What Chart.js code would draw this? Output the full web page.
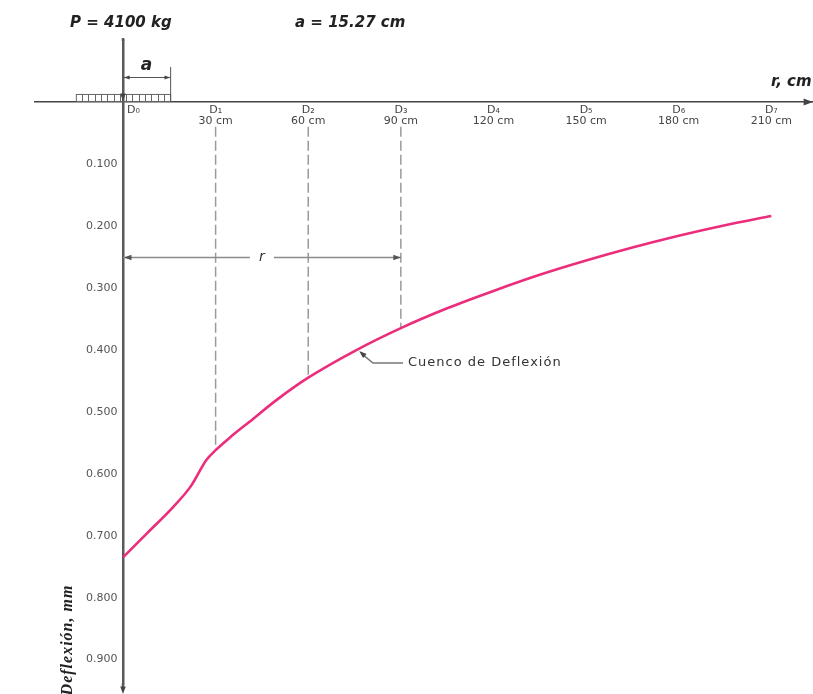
<!DOCTYPE html>
<html lang="es">
<head>
  <meta charset="UTF-8" />
  <title>Cuenco de Deflexión</title>
  <script src="https://cdn.jsdelivr.net/npm/chart.js"></script>
  <style>
    body { margin: 0; background: #fff; }
    canvas { display: block; }
  </style>
</head>
<body>
  <canvas id="bowl" width="813" height="694"></canvas>

  <script>
    // distance from load centre (cm) and measured deflection (mm)
    const radii      = [0, 8, 16, 22, 27, 30, 35, 41, 50, 60, 75, 90, 105, 120, 135, 150, 165, 180, 195, 210];
    const deflection = [0.735, 0.695, 0.655, 0.620, 0.578, 0.562, 0.540, 0.516, 0.480, 0.445, 0.402, 0.365,
                        0.333, 0.305, 0.279, 0.256, 0.235, 0.216, 0.199, 0.184];

    const sensorPos   = [0, 30, 60, 90, 120, 150, 180, 210];
    const sensorNames = ['D₀', 'D₁', 'D₂', 'D₃', 'D₄', 'D₅', 'D₆', 'D₇'];
    const deflTicks   = [0.1, 0.2, 0.3, 0.4, 0.5, 0.6, 0.7, 0.8, 0.9];
    const dashedAt    = [30, 60, 90];

    const load = 4100;          // kg
    const contactRadius = 15.27; // cm

    const curve = radii.map((r, i) => ({ x: r, y: deflection[i] }));

    const dashed = dashedAt.map(r => ({
      data: [{ x: r, y: 0.04 }, { x: r, y: deflection[radii.indexOf(r)] }],
      borderColor: '#9a9a9a',
      borderWidth: 1.5,
      borderDash: [10, 4],
      pointRadius: 0,
      fill: false
    }));

    function arrowHead(ctx, fx, fy, tx, ty, size) {
      const ang = Math.atan2(ty - fy, tx - fx);
      ctx.beginPath();
      ctx.moveTo(tx, ty);
      ctx.lineTo(tx - size * Math.cos(ang - 0.35), ty - size * Math.sin(ang - 0.35));
      ctx.lineTo(tx - size * Math.cos(ang + 0.35), ty - size * Math.sin(ang + 0.35));
      ctx.closePath();
      ctx.fill();
    }

    const sketch = {
      id: 'sketch',
      afterDraw(chart) {
        const ctx = chart.ctx;
        const xs = chart.scales.x, ys = chart.scales.y;
        const x0 = xs.getPixelForValue(0), y0 = ys.getPixelForValue(0);
        const xa = xs.getPixelForValue(contactRadius);
        ctx.save();

        // axis continues down to the arrow
        ctx.strokeStyle = '#5a5a5a';
        ctx.lineWidth = 2.5;
        ctx.beginPath(); ctx.moveTo(x0, chart.chartArea.bottom - 1); ctx.lineTo(x0, 688); ctx.stroke();
        // load line above the axis
        ctx.beginPath(); ctx.moveTo(x0, 38); ctx.lineTo(x0, chart.chartArea.top + 1); ctx.stroke();

        // header
        ctx.fillStyle = '#222';
        ctx.font = 'italic bold 15px "DejaVu Sans", sans-serif';
        ctx.textBaseline = 'middle';
        ctx.textAlign = 'left';
        ctx.fillText('P = ' + load + ' kg', 70, 23);
        ctx.fillText('a = ' + contactRadius + ' cm', 295, 23);
        ctx.fillText('r, cm', 771, 82);

        // distributed load
        const xl = xs.getPixelForValue(-contactRadius);
        ctx.strokeStyle = '#666';
        ctx.lineWidth = 1;
        ctx.strokeRect(xl + 0.5, y0 - 7.5, xa - xl, 7);
        for (let i = 1; i < 15; i++) {
          const xx = Math.round(xl + (xa - xl) * i / 15) + 0.5;
          ctx.beginPath(); ctx.moveTo(xx, y0 - 7.5); ctx.lineTo(xx, y0); ctx.stroke();
        }

        // load arrow
        ctx.fillStyle = '#444';
        arrowHead(ctx, x0, y0 - 20, x0, y0 - 1, 8);

        // "a" dimension
        ctx.strokeStyle = '#555';
        ctx.beginPath(); ctx.moveTo(xa + 0.5, 67); ctx.lineTo(xa + 0.5, y0); ctx.stroke();
        ctx.beginPath(); ctx.moveTo(x0, 77.5); ctx.lineTo(xa, 77.5); ctx.stroke();
        arrowHead(ctx, xa, 77.5, x0 + 1, 77.5, 6);
        arrowHead(ctx, x0, 77.5, xa, 77.5, 6);
        ctx.fillStyle = '#222';
        ctx.textAlign = 'center';
        ctx.font = 'italic bold 17px "DejaVu Sans", sans-serif';
        ctx.fillText('a', (x0 + xa) / 2, 66);

        // axis arrows
        ctx.fillStyle = '#444';
        arrowHead(ctx, 790, y0, 813, y0, 10);
        arrowHead(ctx, x0, 670, x0, 694, 8);

        // "r" dimension
        const yr = Math.round(ys.getPixelForValue(0.251)) + 0.5;
        const xr = xs.getPixelForValue(90), xm = xs.getPixelForValue(45);
        ctx.strokeStyle = '#8a8a8a';
        ctx.lineWidth = 1.5;
        ctx.beginPath();
        ctx.moveTo(x0, yr); ctx.lineTo(xm - 12, yr);
        ctx.moveTo(xm + 12, yr); ctx.lineTo(xr, yr);
        ctx.stroke();
        ctx.fillStyle = '#555';
        arrowHead(ctx, xr, yr, x0 + 1, yr, 8);
        arrowHead(ctx, x0, yr, xr, yr, 8);
        ctx.fillStyle = '#333';
        ctx.font = 'italic 14px "DejaVu Sans", sans-serif';
        ctx.fillText('r', xm, yr);

        // curve label
        const tx = xs.getPixelForValue(76.5), ty = ys.getPixelForValue(0.402);
        ctx.strokeStyle = '#777';
        ctx.lineWidth = 1.5;
        ctx.beginPath();
        ctx.moveTo(403, 363); ctx.lineTo(373, 363); ctx.lineTo(tx + 3, ty + 3);
        ctx.stroke();
        ctx.fillStyle = '#444';
        arrowHead(ctx, 373, 363, tx, ty, 8);
        ctx.fillStyle = '#333';
        ctx.textAlign = 'left';
        ctx.letterSpacing = '1px';
        ctx.font = '13px "DejaVu Sans", sans-serif';
        ctx.fillText('Cuenco de Deflexión', 408, 363);

        // y title
        ctx.translate(68, 640);
        ctx.rotate(-Math.PI / 2);
        ctx.textAlign = 'center';
        ctx.fillStyle = '#222';
        ctx.font = 'italic bold 16px "Liberation Serif", "Times New Roman", serif';
        ctx.fillText('Deflexión, mm', 0, 0);

        ctx.restore();
      }
    };

    new Chart(document.getElementById('bowl'), {
      type: 'line',
      data: {
        datasets: [
          {
            data: curve,
            borderColor: '#ec2d7b',
            borderWidth: 2.6,
            pointRadius: 0,
            cubicInterpolationMode: 'monotone',
            fill: false
          },
          ...dashed
        ]
      },
      options: {
        responsive: false,
        animation: false,
        layout: { padding: { left: 35, top: 40, right: 0, bottom: -15 } },
        plugins: { legend: { display: false }, tooltip: { enabled: false } },
        scales: {
          x: {
            type: 'linear',
            position: { y: 0 },
            min: -28.5,
            max: 223.5,
            afterBuildTicks: s => { s.ticks = sensorPos.map(v => ({ value: v })); },
            grid: { display: false, drawTicks: false },
            border: { display: true, color: '#444', width: 1.5 },
            ticks: {
              padding: 3,
              color: '#444',
              font: { family: '"DejaVu Sans", sans-serif', size: 11, lineHeight: 1.0 },
              maxRotation: 0,
              callback: (v, i) => i === 0 ? '      ' + sensorNames[0] : [sensorNames[i], v + ' cm']
            }
          },
          y: {
            type: 'linear',
            position: { x: 0 },
            reverse: true,
            min: -0.1,
            max: 0.94,
            afterBuildTicks: s => { s.ticks = deflTicks.map(v => ({ value: v })); },
            grid: { display: false },
            border: { display: true, color: '#5a5a5a', width: 2.5 },
            ticks: {
              color: '#555',
              font: { family: '"DejaVu Sans", sans-serif', size: 11 },
              callback: v => v.toFixed(3) + '\u2002'
            }
          }
        }
      },
      plugins: [sketch]
    });
  </script>
</body>
</html>
